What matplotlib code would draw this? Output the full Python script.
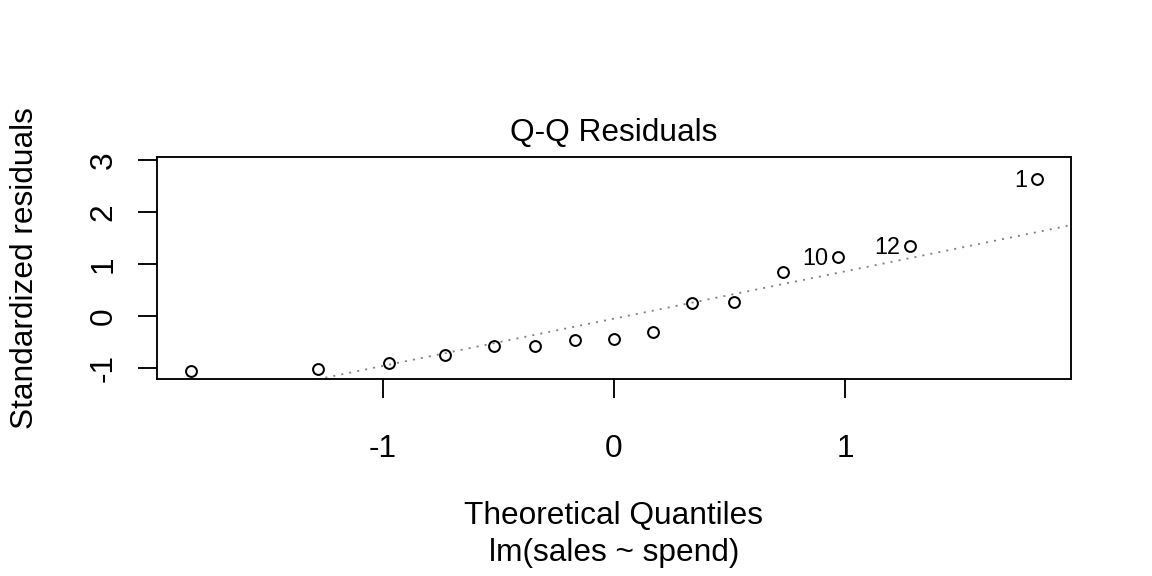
import numpy as np
import matplotlib
matplotlib.use("Agg")
import matplotlib.pyplot as plt

plt.rcParams['font.family'] = ['Liberation Sans', 'DejaVu Sans']

# values
theo_q = [-1.83, -1.28, -0.97, -0.73, -0.52, -0.34, -0.17, 0.00,
          0.17, 0.34, 0.52, 0.73, 0.97, 1.28, 1.83]
std_resid = [-1.064, -1.025, -0.909, -0.754, -0.586, -0.580, -0.470, -0.445,
             -0.309, 0.240, 0.271, 0.845, 1.129, 1.335, 2.625]
# observation ids for the three largest residuals (position in sorted order)
id_labels = {12: '10', 13: '12', 14: '1'}
x_ticks = [-1, 0, 1]
y_ticks = [-1, 0, 1, 2, 3]

x = np.array(theo_q)
y = np.array(std_resid)

W, H = 1152, 576
fig = plt.figure(figsize=(W / 100, H / 100), dpi=100)
ax = fig.add_axes([156.7 / W, 1 - 379.3 / H, (1071 - 156.7) / W, (379.3 - 156.7) / H])

FS = 22.8
LW = 1.35

ax.plot(x, y, linestyle='none', marker='o', markersize=7.8, markerfacecolor='none',
        markeredgecolor='black', markeredgewidth=1.45)

# qqline through the quartiles
q_y = np.quantile(y, [0.25, 0.75])
q_x = np.array([-0.6745, 0.6745])
slope = (q_y[1] - q_y[0]) / (q_x[1] - q_x[0])
icpt = q_y[0] - slope * q_x[0]
ax.axline((0, icpt), slope=slope, color='#7f7f7f', linewidth=1.3,
          linestyle=(0, (1.1, 3.4)))

for i, lab in id_labels.items():
    ax.annotate(lab, (x[i], y[i]), xytext=(-7, -5.8), textcoords='offset points',
                ha='right', va='baseline', fontsize=16.8)

# R style limits: ylim top extended by 7.5%, then 4% padding
xr = x.max() - x.min()
ax.set_xlim(x.min() - 0.04 * xr, x.max() + 0.04 * xr)
ylo, yhi = y.min(), y.max() + 0.075 * (y.max() - y.min())
yr = yhi - ylo
ax.set_ylim(ylo - 0.04 * yr, yhi + 0.04 * yr)

ax.set_xticks(x_ticks)
ax.set_xticklabels([str(t) for t in x_ticks])
ax.set_yticks(y_ticks)
ax.set_yticklabels([str(t) for t in y_ticks], rotation=90, va='center', ha='right')
ax.tick_params(axis='both', direction='out', length=13.8, width=LW, labelsize=FS,
               colors='black')
ax.tick_params(axis='x', pad=25.5)
ax.tick_params(axis='y', pad=13.8)
for s in ax.spines.values():
    s.set_linewidth(LW)
    s.set_color('black')

fig.text(614 / W, 1 - 140.7 / H, 'Q-Q Residuals', ha='center', va='baseline', fontsize=FS)
fig.text(614 / W, 1 - 524.3 / H, 'Theoretical Quantiles', ha='center', va='baseline', fontsize=FS)
fig.text(614 / W, 1 - 560.5 / H, 'lm(sales ~ spend)', ha='center', va='baseline', fontsize=FS)
fig.text(33.3 / W, 1 - 268 / H, 'Standardized residuals', rotation=90,
         rotation_mode='anchor', ha='center', va='baseline', fontsize=FS)

fig.savefig('out.png', dpi=100)
